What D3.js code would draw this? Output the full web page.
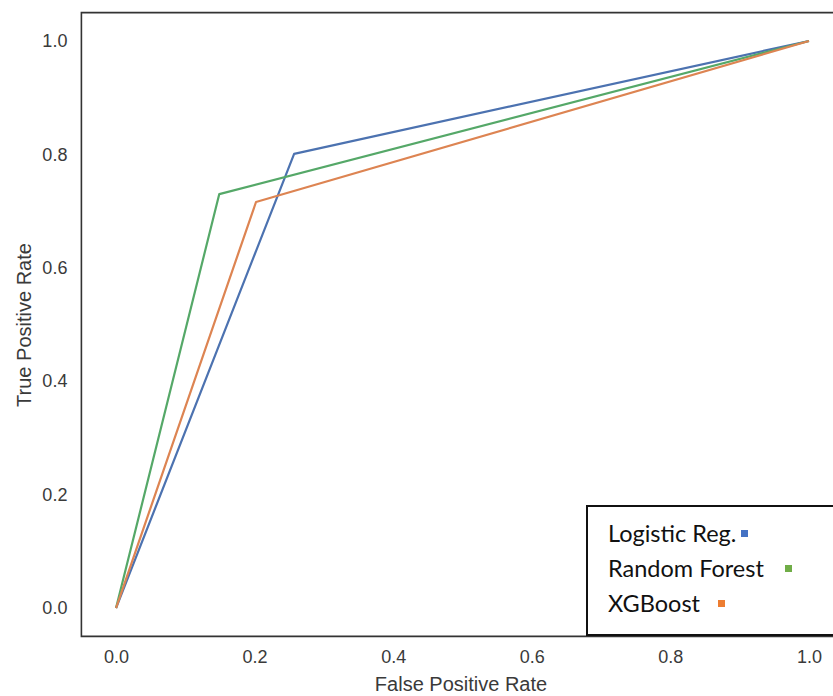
<!DOCTYPE html>
<html><head><meta charset="utf-8">
<script src="https://cdn.jsdelivr.net/npm/d3@7"></script>
<style>body{margin:0;background:#fff}svg{display:block}</style>
</head><body>
<svg id="c" width="833" height="696"></svg>
<script>
const seriesNames = ["Logistic Reg.", "Random Forest", "XGBoost"];
const seriesColors = ["#4C72B0", "#55A868", "#DD8452"];
const legendColors = ["#4472C4", "#70AD47", "#ED7D31"];
const fprLogistic = [0, 0.257, 1];
const tprLogistic = [0, 0.801, 1];
const fprForest = [0, 0.149, 1];
const tprForest = [0, 0.730, 1];
const fprXgb = [0, 0.202, 1];
const tprXgb = [0, 0.716, 1];
const tickValues = [0, 0.2, 0.4, 0.6, 0.8, 1.0];

const svg = d3.select("#c");
const x = d3.scaleLinear().domain([-0.05, 1.05]).range([81.4, 843.6]);
const y = d3.scaleLinear().domain([-0.05, 1.05]).range([636.4, 12.6]);

const series = [
  {fpr: fprLogistic, tpr: tprLogistic},
  {fpr: fprForest, tpr: tprForest},
  {fpr: fprXgb, tpr: tprXgb}
];

// frame
svg.append("path")
  .attr("d", `M${x(1.08)},${y(1.05)} H${x(-0.05)} V${y(-0.05)} H${x(1.08)}`)
  .attr("fill", "none").attr("stroke", "#333").attr("stroke-width", 1.6);

// axes (labels only)
const xAxis = d3.axisBottom(x).tickValues(tickValues).tickSize(0).tickPadding(14).tickFormat(d3.format(".1f"));
const gx = svg.append("g").attr("transform", `translate(0,${y(-0.05)})`).call(xAxis);
gx.select(".domain").remove();
gx.selectAll("text").attr("font-family", "Liberation Sans, Arial, sans-serif").attr("font-size", 18).attr("fill", "#3a3a3a");

const yAxis = d3.axisLeft(y).tickValues(tickValues).tickSize(0).tickPadding(14).tickFormat(d3.format(".1f"));
const gy = svg.append("g").attr("transform", `translate(${x(-0.05)},0)`).call(yAxis);
gy.select(".domain").remove();
gy.selectAll("text").attr("font-family", "Liberation Sans, Arial, sans-serif").attr("font-size", 18).attr("fill", "#3a3a3a");

svg.append("text").attr("x", 461).attr("y", 691).attr("text-anchor", "middle")
  .attr("font-family", "Liberation Sans, Arial, sans-serif").attr("font-size", 20).attr("fill", "#3a3a3a")
  .text("False Positive Rate");
svg.append("text").attr("transform", "translate(31,325) rotate(-90)").attr("text-anchor", "middle")
  .attr("font-family", "Liberation Sans, Arial, sans-serif").attr("font-size", 20).attr("fill", "#3a3a3a")
  .text("True Positive Rate");

// lines
const line = d3.line().x(d => x(d[0])).y(d => y(d[1]));
series.forEach((s, i) => {
  const pts = s.fpr.map((f, j) => [f, s.tpr[j]]);
  svg.append("path").datum(pts).attr("d", line)
    .attr("fill", "none").attr("stroke", seriesColors[i]).attr("stroke-width", 2.2)
    .attr("stroke-linejoin", "round");
});

// legend
const lg = svg.append("g");
lg.append("rect").attr("x", 587).attr("y", 506).attr("width", 260).attr("height", 129)
  .attr("fill", "#fff").attr("stroke", "#111").attr("stroke-width", 2);
const sqX = [741, 785, 718];
seriesNames.forEach((n, i) => {
  const by = 542 + i * 35;
  lg.append("text").attr("x", 608).attr("y", by)
    .attr("font-family", "Lato, Carlito, Calibri, sans-serif").attr("font-size", 23.5).attr("fill", "#111")
    .text(n);
  lg.append("rect").attr("x", sqX[i]).attr("y", by - 12).attr("width", 7).attr("height", 7)
    .attr("fill", legendColors[i]);
});
</script>
</body></html>
